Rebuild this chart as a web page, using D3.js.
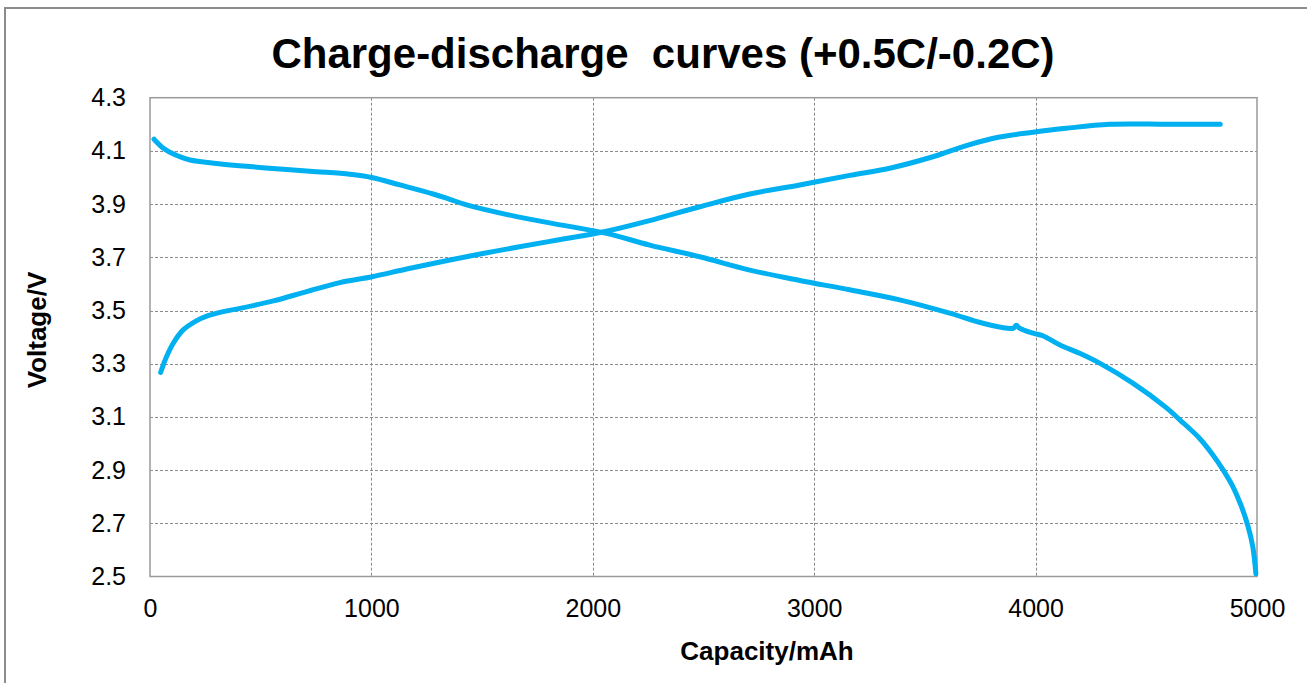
<!DOCTYPE html>
<meta charset="utf-8">
<style>
	body{margin:0;background:#fff;}
	text{font-family:Arial,"Liberation Sans",sans-serif;fill:#000;}
</style>
<svg width="1307" height="683"></svg>
<script src="https://d3js.org/d3.v7.min.js"></script>
<script>
	// values (capacity in mAh, voltage in V)
	var chargeCap = [48, 75, 105, 150, 211, 256, 331, 406, 557, 707, 858, 1004, 1159, 1354, 1580, 1806, 2062, 2257, 2483, 2709, 2935, 3160, 3341, 3536, 3687, 3837, 3988, 4138, 4334, 4600, 4834];
	var chargeV   = [3.267, 3.327, 3.377, 3.427, 3.462, 3.479, 3.496, 3.508, 3.536, 3.571, 3.605, 3.627, 3.656, 3.69, 3.726, 3.76, 3.798, 3.838, 3.89, 3.938, 3.972, 4.008, 4.035, 4.078, 4.12, 4.152, 4.17, 4.185, 4.2, 4.2, 4.2];

	var dischCap = [18, 60, 90, 130, 181, 301, 451, 602, 752, 903, 1001, 1129, 1279, 1354, 1430, 1656, 1881, 2062, 2257, 2483, 2709, 2935, 3160, 3386, 3612, 3762, 3898, 3913, 3925, 3988, 4033, 4108, 4199, 4289, 4439, 4590, 4650, 4740, 4800, 4846, 4891, 4929, 4959, 4981, 4995];
	var dischV   = [4.144, 4.11, 4.095, 4.08, 4.066, 4.053, 4.041, 4.031, 4.022, 4.012, 4.0, 3.972, 3.938, 3.918, 3.897, 3.853, 3.818, 3.79, 3.746, 3.702, 3.652, 3.613, 3.578, 3.54, 3.49, 3.452, 3.433, 3.445, 3.435, 3.415, 3.405, 3.371, 3.339, 3.302, 3.227, 3.135, 3.09, 3.02, 2.958, 2.902, 2.838, 2.765, 2.69, 2.612, 2.51];

	var xTicks = [0, 1000, 2000, 3000, 4000, 5000];
	var yTicks = [2.5, 2.7, 2.9, 3.1, 3.3, 3.5, 3.7, 3.9, 4.1, 4.3];

	var svg = d3.select("svg"),
		pLeft = 150, pRight = 1257, pTop = 97.7, pBottom = 576.5;

	var x = d3.scaleLinear().domain([0, 5000]).range([pLeft, pRight]),
		y = d3.scaleLinear().domain([2.5, 4.3]).range([pBottom, pTop]);

	// outer chart frame
	svg.append("rect").attr("x", 5).attr("y", 8).attr("width", 1400).attr("height", 700)
		.attr("fill", "#fff").attr("stroke", "#8c8c8c").attr("stroke-width", 2);

	// gridlines
	svg.append("g").selectAll("line").data(yTicks.slice(1, -1)).enter().append("line")
		.attr("x1", pLeft).attr("x2", pRight).attr("y1", function(d){return Math.round(y(d)) + 0.5}).attr("y2", function(d){return Math.round(y(d)) + 0.5})
		.attr("stroke", "#8a8a8a").attr("stroke-width", 1).attr("stroke-dasharray", "3,2");
	svg.append("g").selectAll("line").data(xTicks.slice(1, -1)).enter().append("line")
		.attr("y1", pTop).attr("y2", pBottom).attr("x1", function(d){return Math.round(x(d)) + 0.5}).attr("x2", function(d){return Math.round(x(d)) + 0.5})
		.attr("stroke", "#8a8a8a").attr("stroke-width", 1).attr("stroke-dasharray", "3,2");

	// plot area border
	svg.append("rect").attr("x", pLeft).attr("y", pTop).attr("width", pRight - pLeft).attr("height", pBottom - pTop)
		.attr("fill", "none").attr("stroke", "#9a9a9a").attr("stroke-width", 1.5);

	// axes (labels only)
	var yAxis = svg.append("g").attr("transform", "translate(" + pLeft + ",0)")
		.call(d3.axisLeft(y).tickValues(yTicks).tickFormat(d3.format(".1f")).tickSize(0).tickPadding(24));
	var xAxis = svg.append("g").attr("transform", "translate(0," + pBottom + ")")
		.call(d3.axisBottom(x).tickValues(xTicks).tickFormat(d3.format("d")).tickSize(0).tickPadding(23));
	[yAxis, xAxis].forEach(function(g){
		g.select(".domain").remove();
		g.selectAll("text").attr("font-size", 25).attr("font-family", "Arial, 'Liberation Sans', sans-serif").attr("fill", "#111");
	});

	// curves
	var line = d3.line().x(function(d){return x(d[0])}).y(function(d){return y(d[1])}).curve(d3.curveCatmullRom.alpha(0.5));
	var series = [d3.zip(chargeCap, chargeV), d3.zip(dischCap, dischV)];
	svg.append("g").selectAll("path").data(series).enter().append("path")
		.attr("d", line).attr("fill", "none").attr("stroke", "#00b0f0")
		.attr("stroke-width", 5).attr("stroke-linecap", "round").attr("stroke-linejoin", "round");

	// titles
	svg.append("text").attr("x", 663).attr("y", 68).attr("text-anchor", "middle")
		.attr("font-size", 42).attr("font-weight", "bold").style("white-space", "pre")
		.text("Charge-discharge  curves (+0.5C/-0.2C)");
	svg.append("text").attr("x", 767).attr("y", 660).attr("text-anchor", "middle")
		.attr("font-size", 26).attr("font-weight", "bold").text("Capacity/mAh");
	svg.append("text").attr("transform", "translate(46,330) rotate(-90)").attr("text-anchor", "middle")
		.attr("font-size", 26).attr("font-weight", "bold").text("Voltage/V");
</script>
